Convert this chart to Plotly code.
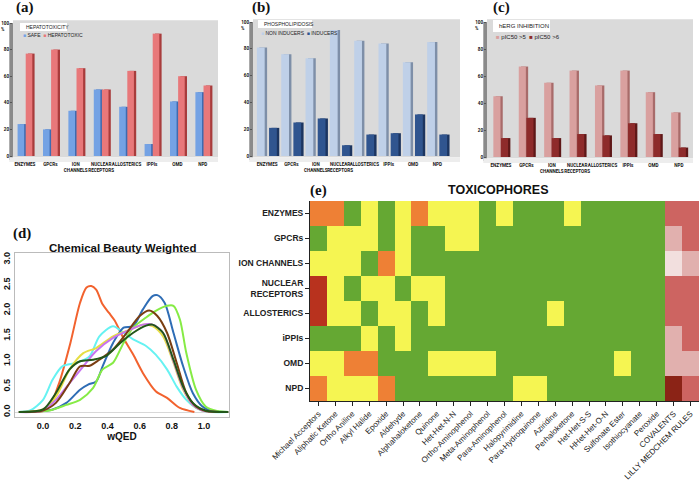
import plotly.graph_objects as go

# ---------------- data ----------------
groups = ["ENZYMES", "GPCRs", "ION<br>CHANNELS", "NUCLEAR<br>RECEPTORS", "ALLOSTERICS", "IPPIs", "OMD", "NPD"]

hep_safe = [24, 20, 34, 50, 37, 9, 41, 48]
hep_toxic = [77, 80, 66, 50, 64, 92, 60, 53]

pld_non = [81, 76, 73, 94, 86, 84, 70, 85]
pld_ind = [21, 25, 28, 8, 16, 17, 31, 16]

herg_5 = [45, 67, 55, 64, 53, 64, 48, 33]
herg_6 = [14, 29, 14, 17, 16, 25, 17, 7]

# wQED density curves
qed_x = {
    "orange": [-0.15, 0.0, 0.04, 0.10, 0.17, 0.23, 0.27, 0.30, 0.33, 0.37, 0.41, 0.445, 0.50, 0.56, 0.62, 0.70, 0.77, 0.85, 0.94],
    "cyan": [-0.15, -0.08, 0.0, 0.06, 0.12, 0.21, 0.29, 0.35, 0.435, 0.50, 0.56, 0.64, 0.70, 0.77, 0.83, 0.89, 0.95, 1.01, 1.15],
    "blue": [-0.15, 0.0, 0.06, 0.145, 0.23, 0.28, 0.33, 0.37, 0.435, 0.50, 0.56, 0.62, 0.68, 0.71, 0.755, 0.81, 0.87, 0.93, 0.99, 1.06, 1.15],
    "green": [-0.15, 0.04, 0.145, 0.23, 0.31, 0.37, 0.435, 0.50, 0.56, 0.64, 0.70, 0.77, 0.81, 0.85, 0.89, 0.95, 1.01, 1.08, 1.15],
    "yellow": [-0.15, 0.0, 0.08, 0.165, 0.25, 0.33, 0.435, 0.54, 0.62, 0.68, 0.745, 0.81, 0.87, 0.93, 0.99, 1.15],
    "purple": [-0.15, 0.0, 0.08, 0.165, 0.25, 0.33, 0.435, 0.54, 0.62, 0.68, 0.745, 0.81, 0.87, 0.93, 0.99, 1.15],
    "brown": [-0.15, 0.0, 0.08, 0.165, 0.23, 0.29, 0.35, 0.435, 0.52, 0.60, 0.66, 0.71, 0.77, 0.83, 0.89, 0.95, 1.01, 1.15],
    "darkgreen": [-0.15, 0.0, 0.08, 0.165, 0.23, 0.31, 0.39, 0.48, 0.56, 0.64, 0.68, 0.745, 0.81, 0.87, 0.93, 1.01, 1.15],
}
qed_y = {
    "orange": [0.0, 0.02, 0.11, 0.57, 1.36, 2.15, 2.45, 2.48, 2.41, 2.12, 1.95, 1.80, 1.45, 1.13, 0.77, 0.41, 0.28, 0.08, 0.0],
    "cyan": [0.0, 0.03, 0.24, 0.64, 0.90, 0.97, 1.10, 1.49, 1.69, 1.56, 1.43, 1.30, 1.13, 0.84, 0.50, 0.24, 0.08, 0.01, 0.0],
    "blue": [0.0, 0.02, 0.05, 0.18, 0.44, 0.54, 0.60, 0.90, 1.36, 1.66, 1.69, 2.02, 2.28, 2.30, 2.15, 1.56, 0.90, 0.375, 0.11, 0.02, 0.0],
    "green": [0.0, 0.03, 0.14, 0.24, 0.47, 0.84, 0.97, 1.36, 1.66, 1.86, 1.99, 2.09, 2.09, 1.82, 1.16, 0.44, 0.11, 0.02, 0.0],
    "yellow": [0.0, 0.05, 0.30, 0.84, 1.16, 1.26, 1.49, 1.62, 1.72, 1.69, 1.49, 0.97, 0.44, 0.14, 0.03, 0.0],
    "purple": [0.0, 0.03, 0.24, 0.57, 0.90, 1.20, 1.46, 1.62, 1.72, 1.72, 1.56, 1.00, 0.47, 0.14, 0.03, 0.0],
    "brown": [0.0, 0.03, 0.18, 0.57, 0.90, 0.91, 1.03, 1.23, 1.56, 1.89, 2.00, 1.89, 1.56, 0.97, 0.375, 0.11, 0.02, 0.0],
    "darkgreen": [0.0, 0.05, 0.375, 0.84, 1.00, 1.03, 1.10, 1.36, 1.56, 1.70, 1.72, 1.56, 1.03, 0.50, 0.18, 0.03, 0.0],
}
qed_colors = {
    "orange": "#F2622E", "cyan": "#66F2F2", "blue": "#2F6DB5", "green": "#86EB45",
    "yellow": "#E6DE45", "purple": "#C873F0", "brown": "#7A3E12", "darkgreen": "#22571A",
}
qed_ticks = [0.0, 0.2, 0.4, 0.6, 0.8, 1.0]

# toxicophore heatmap
tox_rows = ["ENZYMES", "GPCRs", "ION CHANNELS", "NUCLEAR<br>RECEPTORS", "ALLOSTERICS", "iPPIs", "OMD", "NPD"]
tox_cols = ["Michael Acceptors", "Aliphatic Ketone", "Ortho Aniline", "Alkyl Halide", "Epoxide", "Aldehyde",
            "Alphahaloketone", "Quinone", "Het-Het-N-N", "Ortho-Aminophenol", "Meta-Aminophenol",
            "Para-Aminophenol", "Halopyrimidine", "Para-Hydroquinone", "Aziridine", "Perhaloketone",
            "Het-Het-S-S", "HHet-Het-O-N", "Sulfonate Ester", "Isothiocyanate", "Peroxide",
            "COVALENTS", "LILLY MEDCHEM RULES"]
# levels: 0 green, 1 yellow, 2 orange, 3 dark red, 4 very light pink, 5 light pink, 6 red, 7 maroon
tox_enzymes = [2, 2, 0, 1, 0, 1, 2, 1, 1, 1, 0, 1, 0, 0, 0, 1, 0, 0, 0, 0, 0, 6, 6]
tox_gpcrs = [0, 1, 1, 1, 0, 1, 0, 0, 1, 1, 0, 0, 0, 0, 0, 0, 0, 0, 0, 0, 0, 5, 6]
tox_ion = [1, 1, 1, 0, 2, 1, 0, 0, 0, 0, 0, 0, 0, 0, 0, 0, 0, 0, 0, 0, 0, 4, 5]
tox_nuclear = [3, 1, 0, 1, 1, 0, 1, 1, 0, 0, 0, 0, 0, 0, 0, 0, 0, 0, 0, 0, 0, 6, 6]
tox_allo = [3, 1, 1, 0, 1, 1, 0, 1, 0, 0, 0, 0, 0, 0, 1, 0, 0, 0, 0, 0, 0, 6, 6]
tox_ippi = [0, 0, 0, 1, 0, 1, 0, 0, 0, 0, 0, 0, 0, 0, 0, 0, 0, 0, 0, 0, 0, 5, 6]
tox_omd = [1, 1, 2, 2, 0, 0, 0, 1, 1, 1, 1, 0, 0, 0, 0, 0, 0, 0, 1, 0, 0, 5, 5]
tox_npd = [2, 1, 1, 1, 2, 0, 0, 0, 0, 0, 0, 0, 1, 1, 0, 0, 0, 0, 0, 0, 0, 7, 6]
tox_level_colors = ["#65A833", "#F5F552", "#EE8035", "#B8321E", "#F2DFDE", "#E1B0AE", "#CD6461", "#8B2316"]

# ---------------- figure ----------------
W, H = 700, 483
fig = go.Figure()
FONT = "Liberation Sans"
SMALL = "Roboto"

def px_dom_x(a, b):
    return [a / W, b / W]

def px_dom_y(top, bottom):
    return [1 - bottom / H, 1 - top / H]

cat_idx = list(range(len(groups)))

def add_bar_panel(n, s1, s2, c1, c1d, c2, c2d, off1, off2, width, depth):
    xa = "x" if n == 1 else f"x{n}"
    ya = "y" if n == 1 else f"y{n}"
    for vals, col, dcol, off in [(s1, c1, c1d, off1), (s2, c2, c2d, off2)]:
        fig.add_trace(go.Bar(x=cat_idx, y=vals, offset=off + depth, width=width,
                             marker=dict(color=dcol, line=dict(width=0)),
                             xaxis=xa, yaxis=ya, showlegend=False, hoverinfo="skip"))
        fig.add_trace(go.Bar(x=cat_idx, y=vals, offset=off, width=width,
                             marker=dict(color=col, line=dict(width=0)),
                             xaxis=xa, yaxis=ya, showlegend=False))

add_bar_panel(1, hep_safe, hep_toxic, "#74A2E4", "#3E6BB0", "#E8787A", "#A83C3C", -0.29, 0.03, 0.26, 0.09)
add_bar_panel(2, pld_non, pld_ind, "#BFD0E8", "#7E8FA8", "#30558F", "#1C3560", -0.42, 0.08, 0.32, 0.1)
add_bar_panel(3, herg_5, herg_6, "#D9A09F", "#A86B6A", "#8E2B2B", "#5E1818", -0.30, 0.0, 0.28, 0.09)

# density curves
for k in ["orange", "cyan", "blue", "green", "yellow", "purple", "brown", "darkgreen"]:
    fig.add_trace(go.Scatter(x=qed_x[k], y=qed_y[k], mode="lines", line=dict(color=qed_colors[k], width=2, shape="spline", smoothing=0.8),
                             xaxis="x4", yaxis="y4", showlegend=False))

# heatmap
z = [tox_enzymes, tox_gpcrs, tox_ion, tox_nuclear, tox_allo, tox_ippi, tox_omd, tox_npd]
n = len(tox_level_colors)
cs = []
for i, c in enumerate(tox_level_colors):
    cs.append([i / n, c])
    cs.append([(i + 1) / n, c])
fig.add_trace(go.Heatmap(z=z, x=list(range(len(tox_cols))), y=list(range(len(tox_rows))),
                         colorscale=cs, zmin=-0.5, zmax=n - 0.5, showscale=False,
                         xaxis="x5", yaxis="y5"))

tick_font_small = dict(family=SMALL, size=4.6, color="#111111")

bar_panels = {
    1: dict(x=(13, 218), y=(23, 156), rng=[-0.47, 7.6]),
    2: dict(x=(253, 460), y=(22, 156), rng=[-0.58, 7.93]),
    3: dict(x=(487, 693), y=(22, 157), rng=[-0.55, 7.56]),
}
layout = dict(
    width=W, height=H, margin=dict(l=0, r=0, t=0, b=0, autoexpand=False),
    paper_bgcolor="white", plot_bgcolor="rgba(0,0,0,0)",
    barmode="overlay", font=dict(family=FONT), showlegend=False,
)
shapes = []
annotations = []
for n_, p in bar_panels.items():
    xk = "xaxis" if n_ == 1 else f"xaxis{n_}"
    yk = "yaxis" if n_ == 1 else f"yaxis{n_}"
    xr = "x" if n_ == 1 else f"x{n_}"
    yr = "y" if n_ == 1 else f"y{n_}"
    layout[xk] = dict(domain=px_dom_x(*p["x"]), range=p["rng"], anchor=yr, automargin=False,
                      tickmode="array", tickvals=cat_idx, ticktext=[f"<b>{g}</b>" for g in groups], tickangle=0,
                      tickfont=tick_font_small, showgrid=False, zeroline=False, showline=False, ticks="", ticklen=0,
                      ticklabelstandoff=4)
    layout[yk] = dict(domain=px_dom_y(*p["y"]), range=[0, 100], anchor=xr, automargin=False,
                      tickmode="array", tickvals=[0, 20, 40, 60, 80, 100],
                      ticktext=["<b>0</b>", "<b>20</b>", "<b>40</b>", "<b>60</b>", "<b>80</b>", "<b>100</b>"],
                      tickfont=tick_font_small, showgrid=False, zeroline=False, showline=False,
                      ticks="outside", ticklen=2, tickcolor="#555555")
    shapes.append(dict(type="rect", xref=f"{xr} domain", yref=f"{yr} domain", x0=0, x1=1, y0=-0.01, y1=1.02,
                       fillcolor="#DADADA", line=dict(width=0), layer="below"))
    shapes.append(dict(type="rect", xref=f"{xr} domain", yref=f"{yr} domain", x0=-0.018, x1=0, y0=-0.03, y1=1.0,
                       fillcolor="#8A8A8A", line=dict(width=0), layer="below"))
    shapes.append(dict(type="rect", xref=f"{xr} domain", yref=f"{yr} domain", x0=-0.018, x1=1, y0=-0.045, y1=-0.01,
                       fillcolor="#EDEDED", line=dict(width=0), layer="below"))
    annotations.append(dict(text="<b>%</b>", xref=f"{xr} domain", yref=f"{yr} domain", x=-0.03, y=0.95,
                            xanchor="right", yanchor="middle", showarrow=False, font=tick_font_small))

layout["xaxis4"] = dict(domain=px_dom_x(15, 229), range=[-0.174, 1.155], anchor="y4", automargin=False,
                        tickvals=qed_ticks, ticktext=[f"<b>{v:.1f}</b>" for v in qed_ticks],
                        tickfont=dict(family=FONT, size=9, color="#111111"),
                        showgrid=False, zeroline=False, showline=True, mirror=True, linecolor="#BBBBBB", linewidth=1,
                        title=dict(text="<b>wQED</b>", font=dict(family=FONT, size=10, color="#111111"), standoff=1))
layout["yaxis4"] = dict(domain=px_dom_y(253, 417), range=[-0.098, 3.13], anchor="x4", automargin=False,
                        tickvals=[0, 0.5, 1.0, 1.5, 2.0, 2.5, 3.0],
                        ticktext=["<b>0.0</b>", "<b>0.5</b>", "<b>1.0</b>", "<b>1.5</b>", "<b>2.0</b>", "<b>2.5</b>", "<b>3.0</b>"],
                        tickangle=-90, tickfont=dict(family=FONT, size=9, color="#111111"),
                        showgrid=False, zeroline=True, zerolinecolor="#D8D8D8", zerolinewidth=1,
                        showline=True, mirror=True, linecolor="#BBBBBB", linewidth=1)

layout["xaxis5"] = dict(domain=px_dom_x(310, 699), range=[-0.5, len(tox_cols) - 0.5], anchor="y5", automargin=False,
                        tickmode="array", tickvals=list(range(len(tox_cols))), ticktext=tox_cols, tickangle=-45,
                        tickfont=dict(family=FONT, size=8, color="#222222"),
                        ticks="outside", ticklen=4, tickcolor="#222222", showline=True, linecolor="#222222",
                        linewidth=1, showgrid=False, zeroline=False)
layout["yaxis5"] = dict(domain=px_dom_y(201, 401), range=[len(tox_rows) - 0.5, -0.5], anchor="x5", automargin=False,
                        tickmode="array", tickvals=list(range(len(tox_rows))), ticktext=[f"<b>{r}</b>" for r in tox_rows],
                        tickfont=dict(family=FONT, size=8.5, color="#222222"),
                        ticks="outside", ticklen=4, tickcolor="#222222", showline=True, linecolor="#222222",
                        linewidth=1, showgrid=False, zeroline=False)

# panel labels
serif = dict(family="Liberation Serif", size=15, color="#111111")
for lab, x, y in [("(a)", 25, 8), ("(b)", 261, 8), ("(c)", 501, 8), ("(d)", 22, 233), ("(e)", 318, 190)]:
    annotations.append(dict(text=f"<b>{lab}</b>", xref="paper", yref="paper", x=x / W, y=1 - y / H,
                            xanchor="center", yanchor="middle", showarrow=False, font=serif))

annotations.append(dict(text="<b>Chemical Beauty Weighted</b>", xref="paper", yref="paper", x=122 / W, y=1 - 248 / H,
                        xanchor="center", yanchor="middle", showarrow=False, font=dict(family=FONT, size=11.5, color="#111111")))
annotations.append(dict(text="<b>TOXICOPHORES</b>", xref="paper", yref="paper", x=498 / W, y=1 - 190 / H,
                        xanchor="center", yanchor="middle", showarrow=False, font=dict(family=FONT, size=12.5, color="#111111")))

# legends (boxes + text)
def legend_box(title, x0, x1, ytop, ybot, ymid, entries, ylegend, fsize):
    shapes.append(dict(type="rect", xref="paper", yref="paper", x0=x0 / W, x1=x1 / W, y0=1 - ybot / H, y1=1 - ytop / H,
                       fillcolor="white", line=dict(width=0)))
    annotations.append(dict(text=title, xref="paper", yref="paper", x=(x0 + 4) / W, y=1 - ymid / H,
                            xanchor="left", yanchor="middle", showarrow=False,
                            font=dict(family=FONT, size=fsize, color="#222222")))
    txt = "  ".join(f'<span style="color:{c}">■</span> {t}' for t, c in entries)
    annotations.append(dict(text=txt, xref="paper", yref="paper", x=(x0 + 1) / W, y=1 - ylegend / H,
                            xanchor="left", yanchor="middle", showarrow=False,
                            font=dict(family=FONT, size=fsize, color="#222222")))

legend_box("HEPATOTOXICITY", 20, 67, 23, 31, 27, [("SAFE", "#74A2E4"), ("HEPATOTOXIC", "#E8787A")], 35, 5)
legend_box("PHOSPHOLIPIDOSIS", 258, 312, 20, 28, 24, [("NON INDUCERS", "#BFD0E8"), ("INDUCERS", "#30558F")], 33, 5)
legend_box("hERG INHIBITION", 493, 550, 20, 32, 26, [("pIC50 >5", "#D9A09F"), ("pIC50 >6", "#8E2B2B")], 37, 6)

layout["shapes"] = shapes
layout["annotations"] = annotations
fig.update_layout(**layout)
fig.write_html("out.html", config={"displayModeBar": False},
               post_script="document.body.style.margin='0px';document.body.style.overflow='hidden';")
